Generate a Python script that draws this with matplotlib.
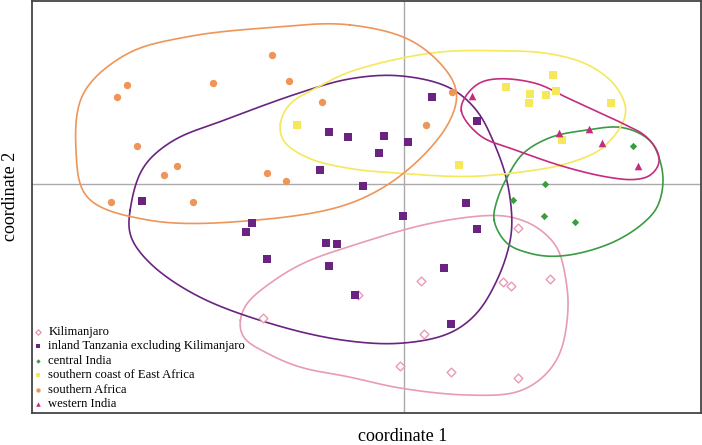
import numpy as np
import matplotlib
matplotlib.use("Agg")
import matplotlib.pyplot as plt

# ---- data (coordinate 1, coordinate 2) ----
kili_x = [1.14, 0.17, 0.99, 1.07, 1.46, 0.20, -0.04, 0.47, 1.14, -0.46, -1.41]
kili_y = [-0.44, -0.97, -0.98, -1.02, -0.95, -1.50, -1.82, -1.88, -1.94, -1.11, -1.34]

tanz_x = [-2.62, 0.28, 0.73, -0.75, -0.56, -0.20, 0.04, -0.25, -0.84, -0.41, 0.62,
          -1.52, -1.58, -0.78, -0.67, -1.37, -0.75, -0.49, -0.01, 0.73, 0.40, 0.47]
tanz_y = [-0.17, 0.88, 0.64, 0.53, 0.48, 0.49, 0.43, 0.32, 0.15, -0.02, -0.19,
          -0.39, -0.48, -0.59, -0.60, -0.75, -0.82, -1.11, -0.32, -0.45, -0.84, -1.40]

cind_x = [2.29, 1.41, 1.09, 1.40, 1.71]
cind_y = [0.39, 0.00, -0.16, -0.32, -0.38]

coast_x = [-1.07, 0.55, 1.49, 1.02, 1.26, 1.42, 1.52, 1.25, 2.07, 1.58]
coast_y = [0.60, 0.20, 1.10, 0.98, 0.91, 0.90, 0.94, 0.82, 0.82, 0.45]

safr_x = [-1.32, -2.77, -2.87, -1.91, -1.15, -0.82, -2.67, -2.27, -2.40, -1.37,
          -1.18, -2.93, -2.11, 0.48, 0.22]
safr_y = [1.30, 1.00, 0.88, 1.02, 1.04, 0.83, 0.39, 0.19, 0.10, 0.12,
          0.03, -0.18, -0.18, 0.93, 0.60]

wind_x = [0.68, 1.55, 1.85, 1.98, 2.34]
wind_y = [0.89, 0.52, 0.56, 0.42, 0.19]

# ---- group outlines (closed curves) ----
kili_hull_x = [-1.64, -1.57, -1.34, -1.01, -0.51, 0.26, 0.86, 1.09, 1.33, 1.53, 1.62,
               1.64, 1.56, 1.39, 1.13, 0.63, -0.04, -0.54, -1.04, -1.37, -1.61]
kili_hull_y = [-1.36, -1.19, -0.99, -0.79, -0.61, -0.39, -0.31, -0.33, -0.43, -0.63, -0.96,
               -1.26, -1.69, -1.93, -2.08, -2.11, -2.04, -1.93, -1.83, -1.69, -1.53]

tanz_hull_x = [-2.74, -2.61, -2.31, -1.81, -1.04, -0.54, -0.04, 0.46, 0.73, 0.89, 1.03,
               1.08, 1.04, 0.93, 0.73, 0.46, -0.01, -0.54, -1.21, -2.04, -2.54, -2.74]
tanz_hull_y = [-0.26, 0.17, 0.44, 0.64, 0.92, 1.06, 1.09, 0.97, 0.74, 0.44, 0.04,
               -0.41, -0.66, -0.96, -1.29, -1.49, -1.59, -1.57, -1.43, -1.13, -0.79, -0.51]

cind_hull_x = [0.90, 0.93, 1.03, 1.19, 1.46, 1.79, 2.19, 2.46, 2.56, 2.59, 2.53, 2.39,
               2.13, 1.79, 1.49, 1.26, 1.03]
cind_hull_y = [-0.36, -0.16, 0.07, 0.31, 0.47, 0.54, 0.57, 0.44, 0.24, 0.01, -0.23, -0.39,
               -0.56, -0.68, -0.72, -0.69, -0.59]

coast_hull_x = [-1.24, -1.14, -0.87, -0.54, 0.29, 0.96, 1.46, 1.86, 2.13, 2.22, 1.99,
                1.63, 1.13, 0.63, -0.01, -0.54, -0.97, -1.21]
coast_hull_y = [0.61, 0.81, 0.97, 1.13, 1.32, 1.34, 1.31, 1.19, 0.97, 0.71, 0.37,
                0.21, 0.12, 0.08, 0.11, 0.16, 0.27, 0.44]

safr_hull_x = [-0.54, 0.13, 0.52, 0.46, 0.03, -0.54, -1.51, -2.54, -3.17, -3.28, -3.21,
               -2.77, -2.17, -1.37]
safr_hull_y = [1.60, 1.41, 0.97, 0.64, 0.14, -0.19, -0.36, -0.36, -0.13, 0.34, 0.91,
               1.31, 1.48, 1.57]

wind_hull_x = [0.57, 0.62, 0.76, 0.96, 1.33, 1.63, 2.19, 2.41, 2.53, 2.55, 2.46, 2.31,
               2.06, 1.63, 1.13, 0.76]
wind_hull_y = [0.74, 0.89, 1.02, 1.06, 1.01, 0.87, 0.61, 0.49, 0.34, 0.21, 0.09, 0.05,
               0.07, 0.17, 0.34, 0.49]

labels = ["Kilimanjaro", "inland Tanzania excluding Kilimanjaro", "central India",
          "southern coast of East Africa", "southern Africa", "western India"]

groups = [
    (kili_x, kili_y, kili_hull_x, kili_hull_y,
     dict(color="#E99BB3", marker="D", s=20, open=True)),
    (tanz_x, tanz_y, tanz_hull_x, tanz_hull_y,
     dict(color="#6A2381", marker="s", s=30, open=False)),
    (cind_x, cind_y, cind_hull_x, cind_hull_y,
     dict(color="#3A9B42", marker="D", s=14, open=False)),
    (coast_x, coast_y, coast_hull_x, coast_hull_y,
     dict(color="#F5E85A", marker="s", s=30, open=False)),
    (safr_x, safr_y, safr_hull_x, safr_hull_y,
     dict(color="#EF9558", marker="o", s=28, open=False)),
    (wind_x, wind_y, wind_hull_x, wind_hull_y,
     dict(color="#C52B7F", marker="^", s=30, open=False)),
]


def closed_catmull_rom(xs, ys, n=30, alpha=0.5):
    P = np.column_stack([xs, ys]).astype(float)
    N = len(P)
    out = []
    for i in range(N):
        p0, p1, p2, p3 = P[i - 1], P[i], P[(i + 1) % N], P[(i + 2) % N]
        t0 = 0.0
        t1 = t0 + np.linalg.norm(p1 - p0) ** alpha
        t2 = t1 + np.linalg.norm(p2 - p1) ** alpha
        t3 = t2 + np.linalg.norm(p3 - p2) ** alpha
        t = np.linspace(t1, t2, n, endpoint=False)[:, None]
        a1 = (t1 - t) / (t1 - t0) * p0 + (t - t0) / (t1 - t0) * p1
        a2 = (t2 - t) / (t2 - t1) * p1 + (t - t1) / (t2 - t1) * p2
        a3 = (t3 - t) / (t3 - t2) * p2 + (t - t2) / (t3 - t2) * p3
        b1 = (t2 - t) / (t2 - t0) * a1 + (t - t0) / (t2 - t0) * a2
        b2 = (t3 - t) / (t3 - t1) * a2 + (t - t1) / (t3 - t1) * a3
        c = (t2 - t) / (t2 - t1) * b1 + (t - t1) / (t2 - t1) * b2
        out.append(c)
    out = np.vstack(out)
    # resample by arc length, then light circular smoothing
    closed = np.vstack([out, out[:1]])
    seg = np.hypot(*np.diff(closed, axis=0).T)
    s = np.concatenate([[0], np.cumsum(seg)])
    u = np.linspace(0, s[-1], 600, endpoint=False)
    hx = np.interp(u, s, closed[:, 0])
    hy = np.interp(u, s, closed[:, 1])
    k = 13
    ker = np.ones(k) / k
    hx = np.convolve(np.concatenate([hx[-k:], hx, hx[:k]]), ker, mode="same")[k:-k]
    hy = np.convolve(np.concatenate([hy[-k:], hy, hy[:k]]), ker, mode="same")[k:-k]
    return np.append(hx, hx[0]), np.append(hy, hy[0])


plt.rcParams["font.family"] = ["Liberation Serif", "DejaVu Serif"]

fig = plt.figure(figsize=(7.02, 4.45), dpi=100)
ax = fig.add_axes([32 / 702, 32 / 445, 669 / 702, 413 / 445 - 0.002])

ax.axhline(0, color="#AAAAAA", lw=1.0, zorder=1)
ax.axvline(0, color="#AAAAAA", lw=1.0, zorder=1)

for (gx, gy, hx, hy, st) in groups:
    cx, cy = closed_catmull_rom(hx, hy)
    ax.plot(cx, cy, color=st["color"], lw=1.2, zorder=2)

for (gx, gy, hx, hy, st), lab in zip(groups, labels):
    if st["open"]:
        ax.scatter(gx, gy, s=st["s"], marker=st["marker"], facecolors="white",
                   edgecolors=st["color"], linewidths=1.0, zorder=3, label=lab)
    else:
        ax.scatter(gx, gy, s=st["s"], marker=st["marker"], color=st["color"],
                   linewidths=0, zorder=3, label=lab)

ax.set_xlim(-3.72, 2.97)
ax.set_ylim(-2.29, 1.84)
ax.set_xticks([])
ax.set_yticks([])
for sp in ax.spines.values():
    sp.set_color("#444444")
    sp.set_linewidth(1.3)

ax.set_xlabel("coordinate 1", fontsize=13)
ax.set_ylabel("coordinate 2", fontsize=13)
ax.xaxis.set_label_coords(0.554, -0.036)
ax.yaxis.set_label_coords(-0.019, 0.525)

leg = ax.legend(loc="lower left", frameon=False, fontsize=9.1, markerscale=0.6,
                handlelength=0.5, handletextpad=0.6, labelspacing=0.2,
                borderaxespad=0.1, borderpad=0.1, scatterpoints=1)

fig.savefig("out.png", dpi=100)
